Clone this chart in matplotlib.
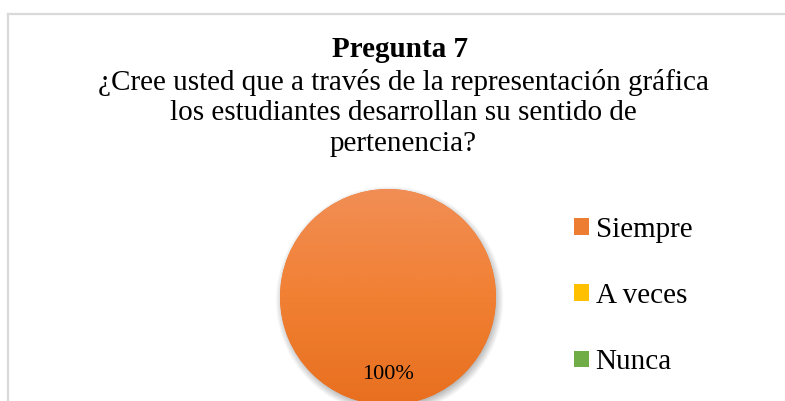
import numpy as np
import matplotlib
matplotlib.use("Agg")
import matplotlib.pyplot as plt
from matplotlib.lines import Line2D

# ---- data ----
categories = ["Siempre", "A veces", "Nunca"]
values = [100, 0, 0]
colors = ["#ED7D31", "#FFC000", "#70AD47"]
title = "Pregunta 7"
subtitle_lines = [
    "¿Cree usted que a través de la representación gráfica",
    "los estudiantes desarrollan su sentido de",
    "pertenencia?",
]

W, H = 785, 401
fig = plt.figure(figsize=(W / 100, H / 100), dpi=100)
fig.patch.set_facecolor("white")
serif = ["Liberation Serif", "DejaVu Serif"]
fs = 21.0

# frame (chart area border, cut off on right and bottom)
fx, fy = 7.5 / W, (H - 14) / H
fig.add_artist(Line2D([fx, fx], [-0.05, fy], transform=fig.transFigure, color="#D9D9D9", lw=1.6))
fig.add_artist(Line2D([fx, 1.05], [fy, fy], transform=fig.transFigure, color="#D9D9D9", lw=1.6))

# titles
fig.text(400.5 / W, (H - 57) / H, title, ha="center", va="baseline",
         fontsize=fs, fontweight="bold", family=serif)
baselines = [90, 120.5, 151]
for line, b in zip(subtitle_lines, baselines):
    fig.text(403 / W, (H - b) / H, line, ha="center", va="baseline",
             fontsize=fs, family=serif)

# pie axes
cx, cy, r = 388, H - 297, 108
ext = 1.25
size = 2 * ext * r
ax = fig.add_axes([(cx - size / 2) / W, (cy - size / 2) / H, size / W, size / H])
ax.set_xlim(-ext, ext)
ax.set_ylim(-ext, ext)
ax.set_aspect("equal")
ax.axis("off")

# soft shadow
n = 300
g = np.linspace(-ext, ext, n)
X, Y = np.meshgrid(g, g)
d = np.hypot(X - 0.015, Y + 0.03)
alpha = np.clip((1.06 - d) / 0.09, 0, 1) * 0.45
shadow = np.zeros((n, n, 4))
shadow[..., :3] = 0.35
shadow[..., 3] = alpha
ax.imshow(shadow, extent=[-ext, ext, -ext, ext], origin="lower", zorder=0, interpolation="bilinear")

def fmt(p):
    return f"{p:.0f}%" if p > 0 else ""

wedges, texts, autotexts = ax.pie(
    values, colors=colors, startangle=90, counterclock=False, radius=1,
    autopct=fmt, pctdistance=0.72, wedgeprops=dict(linewidth=0),
    textprops=dict(fontsize=16, family=serif, color="black"),
)
for w in wedges:
    w.set_zorder(1)
for t in autotexts:
    t.set_zorder(5)
    t.set_va("center")

# vertical gradient over the Siempre wedge
grad_cols = np.array([
    [0xF1, 0x8E, 0x55],
    [0xF1, 0x80, 0x33],
    [0xE8, 0x6F, 0x1F],
]) / 255.0
t = np.linspace(0, 1, 256)
chan = [np.interp(t, [0, 0.5, 1], grad_cols[:, k]) for k in range(3)]
img = np.stack(chan, axis=-1)[:, None, :]  # row 0 = top
gim = ax.imshow(img, extent=[-1, 1, -1, 1], origin="upper", aspect="auto", zorder=2, interpolation="bilinear")
gim.set_clip_path(wedges[0])
ax.set_xlim(-ext, ext)
ax.set_ylim(-ext, ext)

# legend
leg = fig.legend(
    wedges, categories, loc="center left",
    bbox_to_anchor=(574 / W, (H - 296) / H),
    frameon=False, borderpad=0, borderaxespad=0,
    prop=dict(family=serif, size=fs),
    handlelength=0.5, handleheight=0.5, handletextpad=0.24, labelspacing=1.38,
)

fig.savefig("out.png", dpi=100, facecolor="white")
